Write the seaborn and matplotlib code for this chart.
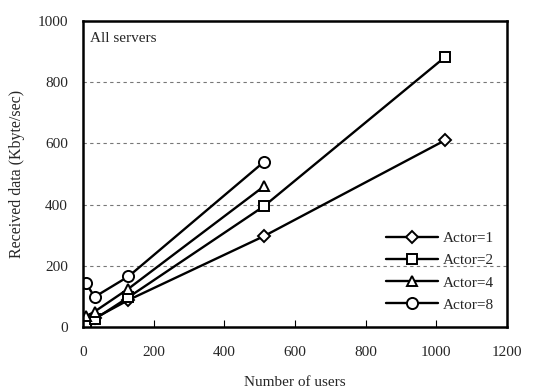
import pandas as pd
import matplotlib.pyplot as plt
import seaborn as sns

# data
users = [8, 32, 128, 512, 1024]
actor1 = [10, 28, 88, 297, 610]
actor2 = [8, 25, 97, 395, 882]
actor4 = [35, 50, 125, 460]
actor8 = [143, 98, 165, 540]
series_names = ["Actor=1", "Actor=2", "Actor=4", "Actor=8"]

rows = []
for name, vals in zip(series_names, [actor1, actor2, actor4, actor8]):
    for u, v in zip(users, vals):
        rows.append({"users": u, "received": v, "series": name})
df = pd.DataFrame(rows)

sns.set_style("white")
plt.rcParams["font.family"] = ["Liberation Serif", "DejaVu Serif"]

fig = plt.figure(figsize=(5.37, 3.92), dpi=100)
ax = fig.add_axes([0.155, 0.166, 0.789, 0.780])

markers = {"Actor=1": "D", "Actor=2": "s", "Actor=4": "^", "Actor=8": "o"}
sizes_map = {"Actor=1": 6, "Actor=2": 7.5, "Actor=4": 7.5, "Actor=8": 8}

for name in series_names:
    sub = df[df["series"] == name]
    sns.lineplot(data=sub, x="users", y="received", ax=ax, color="black",
                 linewidth=1.7, marker=markers[name], markersize=sizes_map[name],
                 markerfacecolor="white", markeredgecolor="black",
                 markeredgewidth=1.4, label=name)

ax.set_xlim(0, 1200)
ax.set_ylim(0, 1000)
ax.set_xticks(range(0, 1201, 200))
ax.set_yticks(range(0, 1001, 200))
for y in range(200, 1000, 200):
    ax.axhline(y, color="#777777", linestyle=(0, (3, 3)), linewidth=0.8, zorder=0)

for s in ax.spines.values():
    s.set_color("black")
    s.set_linewidth(1.8)

ax.tick_params(axis="x", direction="in", length=5, width=0.8, color="black",
               labelsize=11, pad=14, bottom=True)
ax.tick_params(axis="y", length=0, labelsize=11, pad=11, left=False)

ax.set_xlabel("Number of users", fontsize=11, labelpad=12)
ax.set_ylabel("Received data (Kbyte/sec)", fontsize=11.5, labelpad=9)
ax.text(0.015, 0.965, "All servers", transform=ax.transAxes, fontsize=11,
        va="top", ha="left")

leg = ax.legend(loc="lower right", bbox_to_anchor=(0.99, 0.02), frameon=False,
                handlelength=3.4, fontsize=11, labelspacing=0.55,
                handletextpad=0.3, borderaxespad=0.2)

fig.savefig("out.png", dpi=100)
